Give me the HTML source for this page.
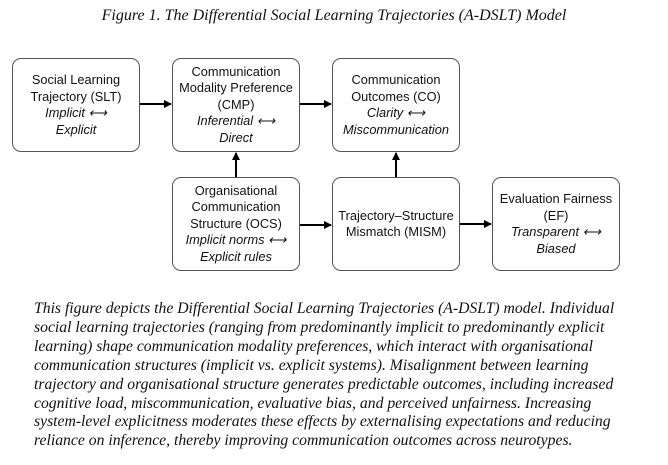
<!DOCTYPE html>
<html><head><style>
body{margin:0;width:668px;height:465px;background:#fff;position:relative;overflow:hidden;font-family:"Liberation Sans",sans-serif}
.t{position:absolute;top:7px;left:0;width:668px;text-align:center;font:italic 16px "Liberation Serif",serif;color:#111}
.b{position:absolute;width:126px;height:92px;border:1.3px solid #555;border-radius:9px;display:flex;flex-direction:column;justify-content:center;align-items:center;text-align:center;font-size:12.8px;line-height:16.5px;color:#111;box-sizing:border-box}
.b i{font-style:italic}
.p{position:absolute;left:34px;top:300px;white-space:nowrap;font:italic 15.7px/18.9px "Liberation Serif",serif;color:#111}
</style></head><body>
<div class="t">Figure 1. The Differential Social Learning Trajectories (A-DSLT) Model</div>
<div class="b" style="left:12px;top:58px;width:128px;height:94px">Social Learning<br>Trajectory (SLT)<br><i>Implicit ⟷<br>Explicit</i></div>
<div class="b" style="left:172px;top:58px;width:128px;height:94px">Communication<br>Modality Preference<br>(CMP)<br><i>Inferential ⟷<br>Direct</i></div>
<div class="b" style="left:332px;top:58px;width:128px;height:94px">Communication<br>Outcomes (CO)<br><i>Clarity ⟷<br>Miscommunication</i></div>
<div class="b" style="left:172px;top:177px;width:128px;height:94px">Organisational<br>Communication<br>Structure (OCS)<br><i>Implicit norms ⟷<br>Explicit rules</i></div>
<div class="b" style="left:332px;top:177px;width:128px;height:94px">Trajectory–Structure<br>Mismatch (MISM)</div>
<div class="b" style="left:492px;top:177px;width:128px;height:94px">Evaluation Fairness<br>(EF)<br><i>Transparent ⟷<br>Biased</i></div>
<svg width="668" height="465" style="position:absolute;left:0;top:0">
<defs><marker id="a" markerWidth="8" markerHeight="8" refX="7" refY="4" orient="auto" markerUnits="userSpaceOnUse"><path d="M0,0L8,4L0,8z" fill="#000"/></marker></defs>
<g stroke="#000" stroke-width="2" marker-end="url(#a)">
<line x1="140" y1="104" x2="171" y2="104"/>
<line x1="300" y1="104" x2="331" y2="104"/>
<line x1="236" y1="177" x2="236" y2="153"/>
<line x1="300" y1="225" x2="331" y2="225"/>
<line x1="396" y1="177" x2="396" y2="153"/>
<line x1="460" y1="224" x2="491" y2="224"/>
</g></svg>
<div class="p">This figure depicts the Differential Social Learning Trajectories (A-DSLT) model. Individual<br>social learning trajectories (ranging from predominantly implicit to predominantly explicit<br>learning) shape communication modality preferences, which interact with organisational<br>communication structures (implicit vs. explicit systems). Misalignment between learning<br>trajectory and organisational structure generates predictable outcomes, including increased<br>cognitive load, miscommunication, evaluative bias, and perceived unfairness. Increasing<br>system-level explicitness moderates these effects by externalising expectations and reducing<br>reliance on inference, thereby improving communication outcomes across neurotypes.</div>
</body></html>
